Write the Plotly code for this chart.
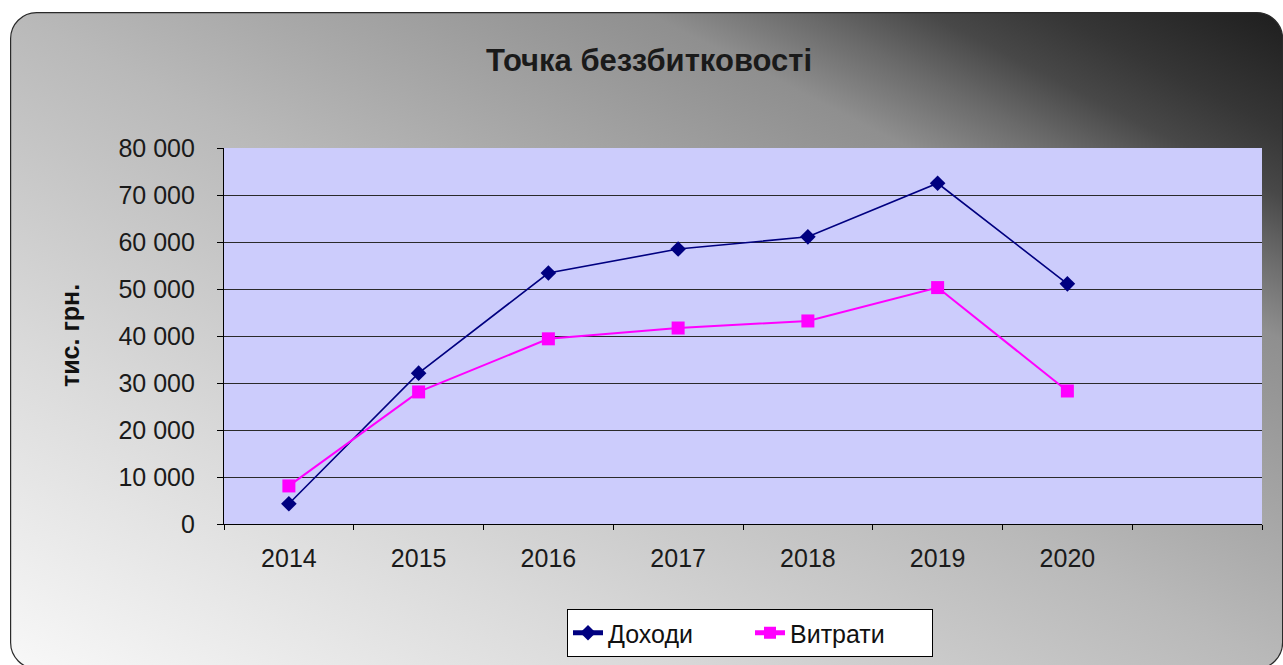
import base64
import plotly.graph_objects as go

# ---- data ----
years = ["2014", "2015", "2016", "2017", "2018", "2019", "2020"]
income = [4300, 32100, 53400, 58500, 61100, 72500, 51100]     # Доходи
expenses = [8100, 28100, 39400, 41700, 43200, 50300, 28300]   # Витрати
y_ticks = [0, 10000, 20000, 30000, 40000, 50000, 60000, 70000, 80000]
title_text = "Точка беззбитковості"
y_title = "тис. грн."
series_names = ["Доходи", "Витрати"]

W, H = 1283, 665
L, R, T, B = 224, 21, 148, 141
pw, ph = W - L - R, H - T - B

FONT = "Liberation Sans, Arial, sans-serif"

# background gradient rounded panel (decoration)
svg = (
    '<svg xmlns="http://www.w3.org/2000/svg" width="1273" height="660" '
    'viewBox="0 0 1273 660" preserveAspectRatio="none">'
    '<defs><linearGradient id="g" x1="0" y1="1" x2="1" y2="0">'
    '<stop offset="0" stop-color="#f8f8f8"/>'
    '<stop offset="0.25" stop-color="#dadada"/>'
    '<stop offset="0.5" stop-color="#b9b9b9"/>'
    '<stop offset="0.75" stop-color="#8f8f8f"/>'
    '<stop offset="0.81" stop-color="#6a6a6a"/>'
    '<stop offset="0.86" stop-color="#484848"/>'
    '<stop offset="0.91" stop-color="#363636"/>'
    '<stop offset="1" stop-color="#1e1e1e"/>'
    '</linearGradient></defs>'
    '<rect x="0.6" y="0.6" width="1272" height="656" rx="26" ry="26" '
    'fill="url(#g)" stroke="#2a2a2a" stroke-width="1.2"/></svg>'
)
svg_uri = "data:image/svg+xml;base64," + base64.b64encode(svg.encode()).decode()

xpos = list(range(len(years)))

fig = go.Figure()
fig.add_trace(go.Scatter(
    x=xpos, y=income, name=series_names[0], mode="lines+markers",
    line=dict(color="#000080", width=1.6),
    marker=dict(symbol="diamond", size=12, color="#000080"),
))
fig.add_trace(go.Scatter(
    x=xpos, y=expenses, name=series_names[1], mode="lines+markers",
    line=dict(color="#ff00ff", width=2),
    marker=dict(symbol="square", size=13, color="#ff00ff"),
))

n_cat = len(years) + 1
fig.update_layout(
    width=W, height=H,
    margin=dict(l=L, r=R, t=T, b=B, pad=0, autoexpand=False),
    paper_bgcolor="white",
    plot_bgcolor="rgba(0,0,0,0)",
    separators=", ",
    font=dict(family=FONT, size=25, color="#1a1a1a"),
    title=dict(text=title_text, x=649 / W, xref="container", xanchor="center",
               y=1 - 60 / H, yref="container", yanchor="middle",
               font=dict(family=FONT, size=31, color="#1a1a1a", weight="bold")),
    showlegend=True,
    legend=dict(orientation="h", x=(750 - L) / pw, xanchor="center",
                y=(524 - 633) / ph, yanchor="middle",
                bgcolor="white", bordercolor="black", borderwidth=1,
                font=dict(family=FONT, size=25, color="#111"),
                entrywidth=137, entrywidthmode="pixels",
                itemsizing="constant"),
    xaxis=dict(
        range=[-0.5, n_cat - 0.5], tickmode="array", tickvals=xpos, ticktext=years,
        ticks="", showgrid=False, zeroline=False,
        showline=True, linecolor="black", linewidth=1.2,
        ticklabelstandoff=12,
        tickfont=dict(family=FONT, size=25, color="#1a1a1a"),
        minor=dict(tickmode="array", tickvals=[i - 0.5 for i in range(n_cat + 1)],
                   ticks="outside", ticklen=5, tickcolor="black", tickwidth=1,
                   showgrid=False),
        fixedrange=True,
    ),
    yaxis=dict(
        range=[0, 80000], tickmode="array", tickvals=y_ticks, tickformat=",d",
        ticks="outside", ticklen=6, tickcolor="black", tickwidth=1,
        showgrid=True, gridcolor="#2a2a2a", gridwidth=1,
        zeroline=False, showline=True, linecolor="black", linewidth=1.2,
        ticklabelstandoff=17,
        tickfont=dict(family=FONT, size=25, color="#1a1a1a"),
        fixedrange=True,
    ),
    images=[dict(source=svg_uri, xref="paper", yref="paper",
                 x=(10 - L) / pw, y=(H - B - 12) / ph,
                 sizex=1273 / pw, sizey=660 / ph,
                 xanchor="left", yanchor="top", sizing="stretch",
                 layer="below")],
    shapes=[dict(type="rect", xref="paper", yref="paper", x0=0, x1=1, y0=0, y1=1,
                 fillcolor="#ccccfc", line=dict(width=0), layer="below")],
    annotations=[dict(text=y_title, xref="paper", yref="paper",
                      x=(70 - L) / pw, y=0.5, textangle=-90, showarrow=False,
                      xanchor="center", yanchor="middle",
                      font=dict(family=FONT, size=25, color="#111", weight="bold"))],
)

fig.write_html("out.html", config={"displayModeBar": False})
